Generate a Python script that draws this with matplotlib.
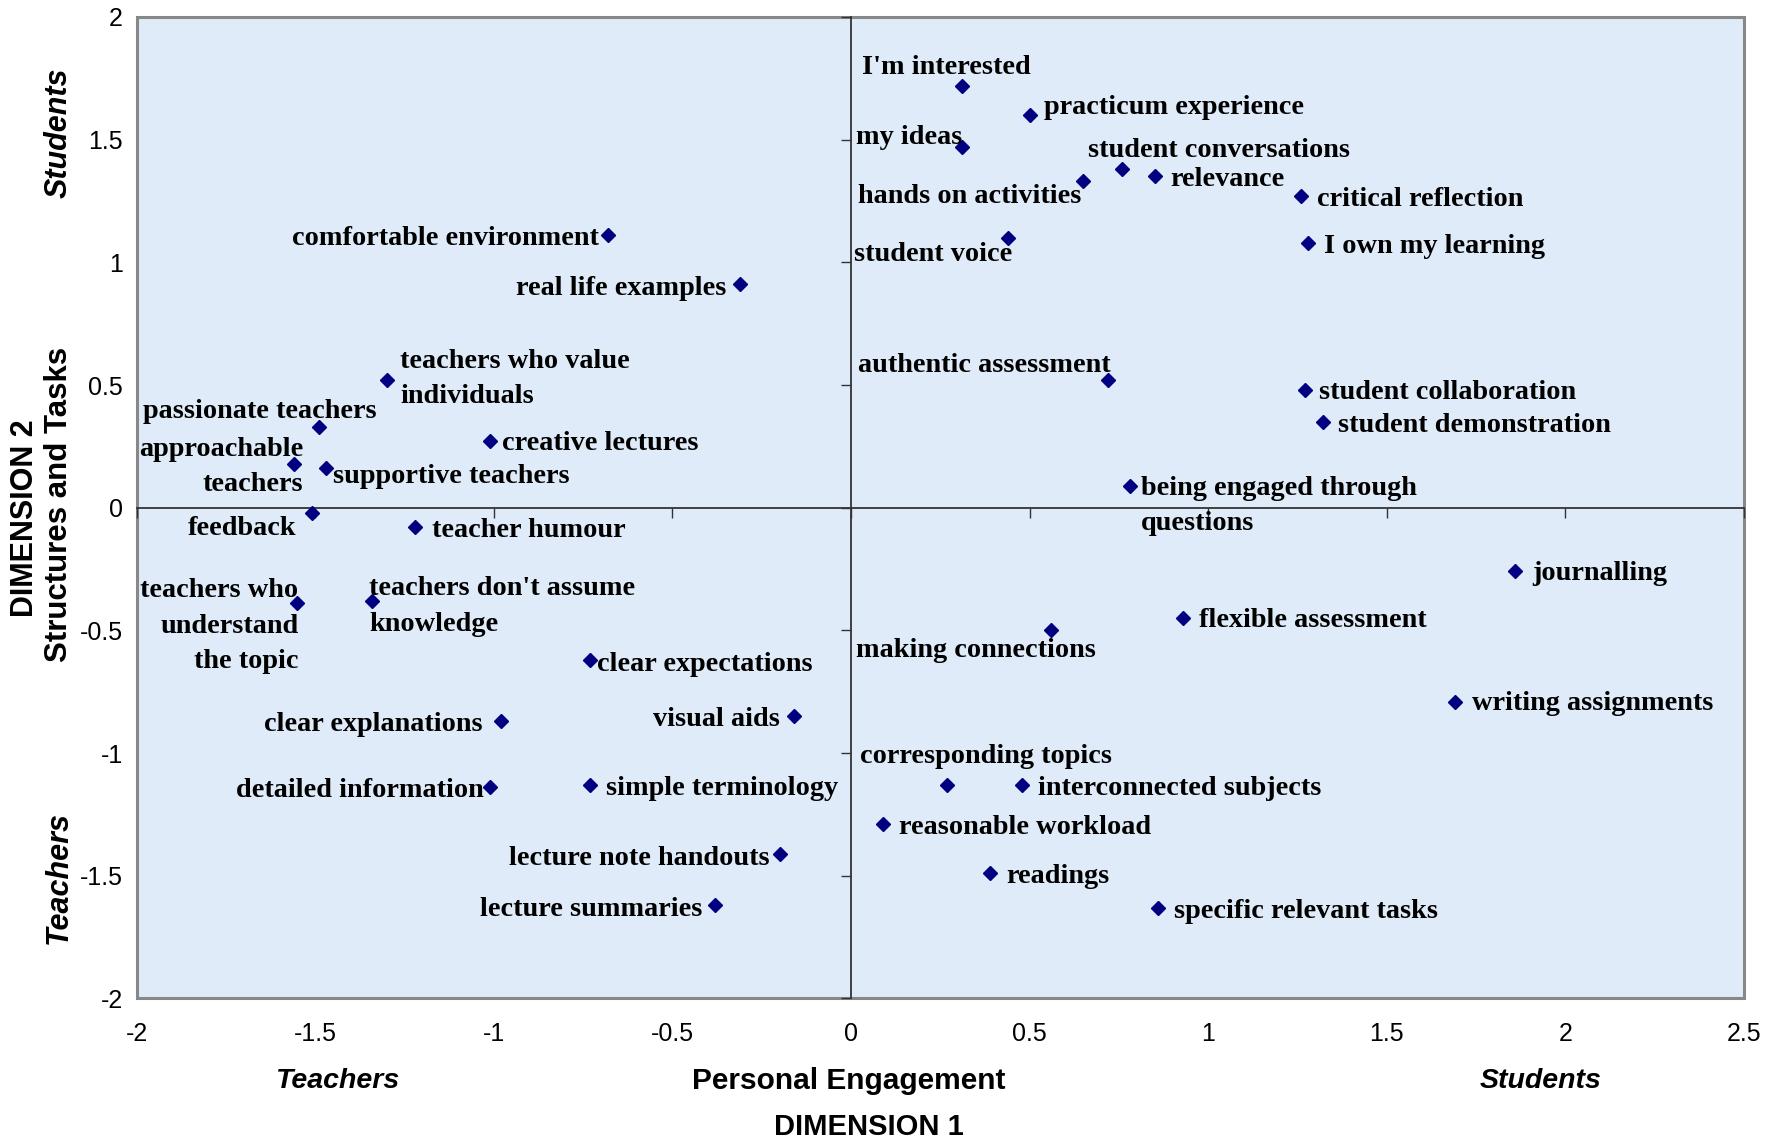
import numpy as np
import matplotlib
matplotlib.use('Agg')
import matplotlib.pyplot as plt

# item labels and their coordinates on the two dimensions
labels = ["I'm interested", "practicum experience", "my ideas", "student conversations",
          "relevance", "hands on activities", "critical reflection", "I own my learning",
          "student voice", "authentic assessment", "student collaboration",
          "student demonstration", "being engaged through\nquestions", "journalling",
          "flexible assessment", "making connections", "writing assignments",
          "corresponding topics", "interconnected subjects", "reasonable workload",
          "readings", "specific relevant tasks",
          "comfortable environment", "real life examples", "teachers who value\nindividuals",
          "passionate teachers", "approachable\nteachers", "supportive teachers",
          "creative lectures", "feedback", "teacher humour",
          "teachers who\nunderstand\nthe topic", "teachers don't assume\nknowledge",
          "clear expectations", "clear explanations", "visual aids",
          "detailed information", "simple terminology", "lecture note handouts",
          "lecture summaries"]
dim1 = [0.31, 0.50, 0.31, 0.76, 0.85, 0.65, 1.26, 1.28, 0.44, 0.72, 1.27, 1.32, 0.78,
        1.86, 0.93, 0.56, 1.69, 0.27, 0.48, 0.09, 0.39, 0.86,
        -0.68, -0.31, -1.30, -1.49, -1.56, -1.47, -1.01, -1.51, -1.22, -1.55, -1.34,
        -0.73, -0.98, -0.16, -1.01, -0.73, -0.20, -0.38]
dim2 = [1.72, 1.60, 1.47, 1.38, 1.35, 1.33, 1.27, 1.08, 1.10, 0.52, 0.48, 0.35, 0.09,
        -0.26, -0.45, -0.50, -0.79, -1.13, -1.13, -1.29, -1.49, -1.63,
        1.11, 0.91, 0.52, 0.33, 0.18, 0.16, 0.27, -0.02, -0.08, -0.39, -0.38,
        -0.62, -0.87, -0.85, -1.14, -1.13, -1.41, -1.62]

# label placement: (ha, dx, dy) in reference pixels, dy downwards
place = [('left', -88, -18), ('left', 13, -9), ('left', -93, -10), ('left', -30, -18),
         ('left', 14, 1), ('right', -2, 11), ('left', 14, 1), ('left', 14, 1),
         ('right', 4, 13), ('right', 2, -15), ('left', 13, 0), ('left', 14, 1),
         ('left', 10, 16), ('left', 15, 0), ('left', 14, 0), ('left', -171, 16),
         ('left', 15, 0), ('left', -77, -27), ('left', 14, 1), ('left', 14, 1),
         ('left', 14, 1), ('left', 14, 1),
         ('right', -8, 1), ('right', -12, 2), ('left', 12, -3), ('right', 51, -15),
         ('right', 8, 1), ('left', 6, 5), ('left', 10, 0), ('right', -13, 12),
         ('left', 15, 1), ('right', 1, 18), ('left', -3, 3), ('left', 6, 2),
         ('right', -16, 1), ('right', -12, 1), ('right', -6, 1), ('left', 14, 1),
         ('right', -9, 2), ('right', -11, 2)]

xticks = [-2, -1.5, -1, -0.5, 0, 0.5, 1, 1.5, 2, 2.5]
yticks = [-2, -1.5, -1, -0.5, 0, 0.5, 1, 1.5, 2]

W, H = 1785, 1143
S = W / 1568.0
fig = plt.figure(figsize=(W / 100, H / 100), dpi=100)
rect = [136.6 / W, 1 - 998.4 / H, (1744 - 136.6) / W, (998.4 - 17) / H]
ax = fig.add_axes(rect)
ax.set_xlim(-2, 2.5)
ax.set_ylim(-2, 2)
ax.set_facecolor('#dfebf8')
ax.patch.set_edgecolor('#888888')
ax.patch.set_linewidth(2.2)

# axes through the origin, with tick marks
ax.spines['left'].set_position(('data', 0))
ax.spines['bottom'].set_position(('data', 0))
ax.spines['top'].set_visible(False)
ax.spines['right'].set_visible(False)
for s in ['left', 'bottom']:
    ax.spines[s].set_color('#333333')
    ax.spines[s].set_linewidth(1.3)
ax.set_xticks(xticks)
ax.set_yticks(yticks)
ax.tick_params(direction='out', length=7, width=1, color='#333333',
               labelleft=False, labelbottom=False)

ax.plot(dim1, dim2, 'D', color='#000080', ms=7.5, zorder=3, clip_on=False)

for lab, x, y, (ha, dx, dy) in zip(labels, dim1, dim2, place):
    ax.annotate(lab, (x, y), xytext=(dx * S, -(dy + 2) * S), textcoords='offset pixels',
                ha=ha, va='center', multialignment=ha, linespacing=1.55,
                fontsize=20.3, fontweight='bold', family='Liberation Serif')

# tick labels at the edges of the plot area
ax2 = fig.add_axes(rect, frameon=False)
ax2.set_xlim(-2, 2.5)
ax2.set_ylim(-2, 2)
ax2.patch.set_visible(False)
ax2.set_xticks(xticks)
ax2.set_yticks(yticks)
ax2.set_xticklabels(['%g' % t for t in xticks])
ax2.set_yticklabels(['%g' % t for t in yticks])
ax2.tick_params(length=0, labelsize=18, pad=10)
ax2.tick_params(axis='x', pad=17)
for t in ax2.get_xticklabels() + ax2.get_yticklabels():
    t.set_family('Liberation Sans')

def ftext(px, py, s, **kw):
    fig.text(px / W, 1 - py / H, s, ha='center', va='center',
             family='Liberation Sans', fontweight='bold', **kw)

ftext(338, 1081, 'Teachers', fontsize=20.5, style='italic')
ftext(849, 1081, 'Personal Engagement', fontsize=21.5)
ftext(1541, 1081, 'Students', fontsize=20.5, style='italic')
ftext(869, 1127, 'DIMENSION 1', fontsize=21)
ftext(25, 518, 'DIMENSION 2', fontsize=22, rotation=90)
ftext(59, 504, 'Structures and Tasks', fontsize=22.5, rotation=90)
ftext(59, 133, 'Students', fontsize=22, style='italic', rotation=90)
ftext(59, 877, 'Teachers', fontsize=22, style='italic', rotation=90)

fig.savefig('out.png', dpi=100, facecolor='white')
